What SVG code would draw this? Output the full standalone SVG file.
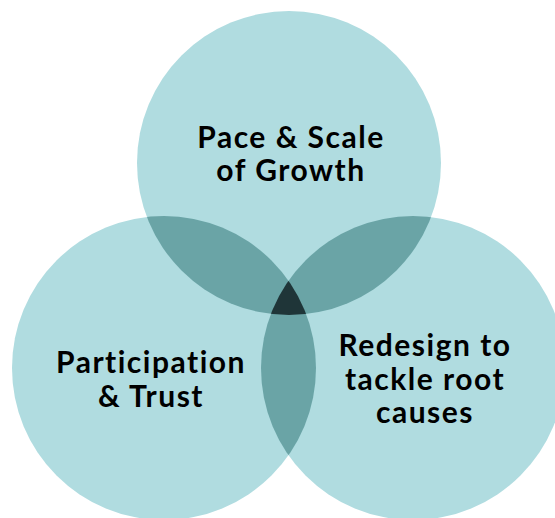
<svg xmlns="http://www.w3.org/2000/svg" width="555" height="518" viewBox="0 0 555 518">
  <style>
    .set { fill: #b0dce0; }
    .pair { fill: #6aa4a6; }
    .core { fill: #1f3538; }
    .label { font-family: "Lato", "Liberation Sans", sans-serif; font-weight: bold; font-size: 30px; letter-spacing: 1.5px; fill: #000; text-anchor: middle; }
  </style>
  <defs>
    <clipPath id="clipTop"><circle cx="289" cy="163" r="152"/></clipPath>
    <clipPath id="clipLeft"><circle cx="164" cy="368" r="152"/></clipPath>
    <clipPath id="clipRight"><circle cx="413" cy="368" r="152"/></clipPath>
  </defs>

  <rect width="555" height="518" fill="#fff"/>

  <!-- base sets -->
  <g id="top-set"><circle class="set" cx="289" cy="163" r="152"/></g>
  <g id="left-set"><circle class="set" cx="164" cy="368" r="152"/></g>
  <g id="right-set"><circle class="set" cx="413" cy="368" r="152"/></g>

  <!-- pairwise overlaps -->
  <g id="overlaps">
    <g clip-path="url(#clipTop)"><circle class="pair" cx="164" cy="368" r="152"/></g>
    <g clip-path="url(#clipTop)"><circle class="pair" cx="413" cy="368" r="152"/></g>
    <g clip-path="url(#clipLeft)"><circle class="pair" cx="413" cy="368" r="152"/></g>
    <!-- centre where all three meet -->
    <g clip-path="url(#clipTop)"><g clip-path="url(#clipLeft)"><circle class="core" cx="413" cy="368" r="152"/></g></g>
  </g>

  <!-- labels (x nudged by half the letter-spacing to keep the ink centred) -->
  <g id="label-top">
    <text class="label" x="291" y="148">Pace &amp; Scale</text>
    <text class="label" x="291" y="181">of Growth</text>
  </g>
  <g id="label-left">
    <text class="label" x="151" y="373">Participation</text>
    <text class="label" x="151" y="407">&amp; Trust</text>
  </g>
  <g id="label-right">
    <text class="label" x="425" y="356">Redesign to</text>
    <text class="label" x="425" y="390">tackle root</text>
    <text class="label" x="425" y="423">causes</text>
  </g>
</svg>
